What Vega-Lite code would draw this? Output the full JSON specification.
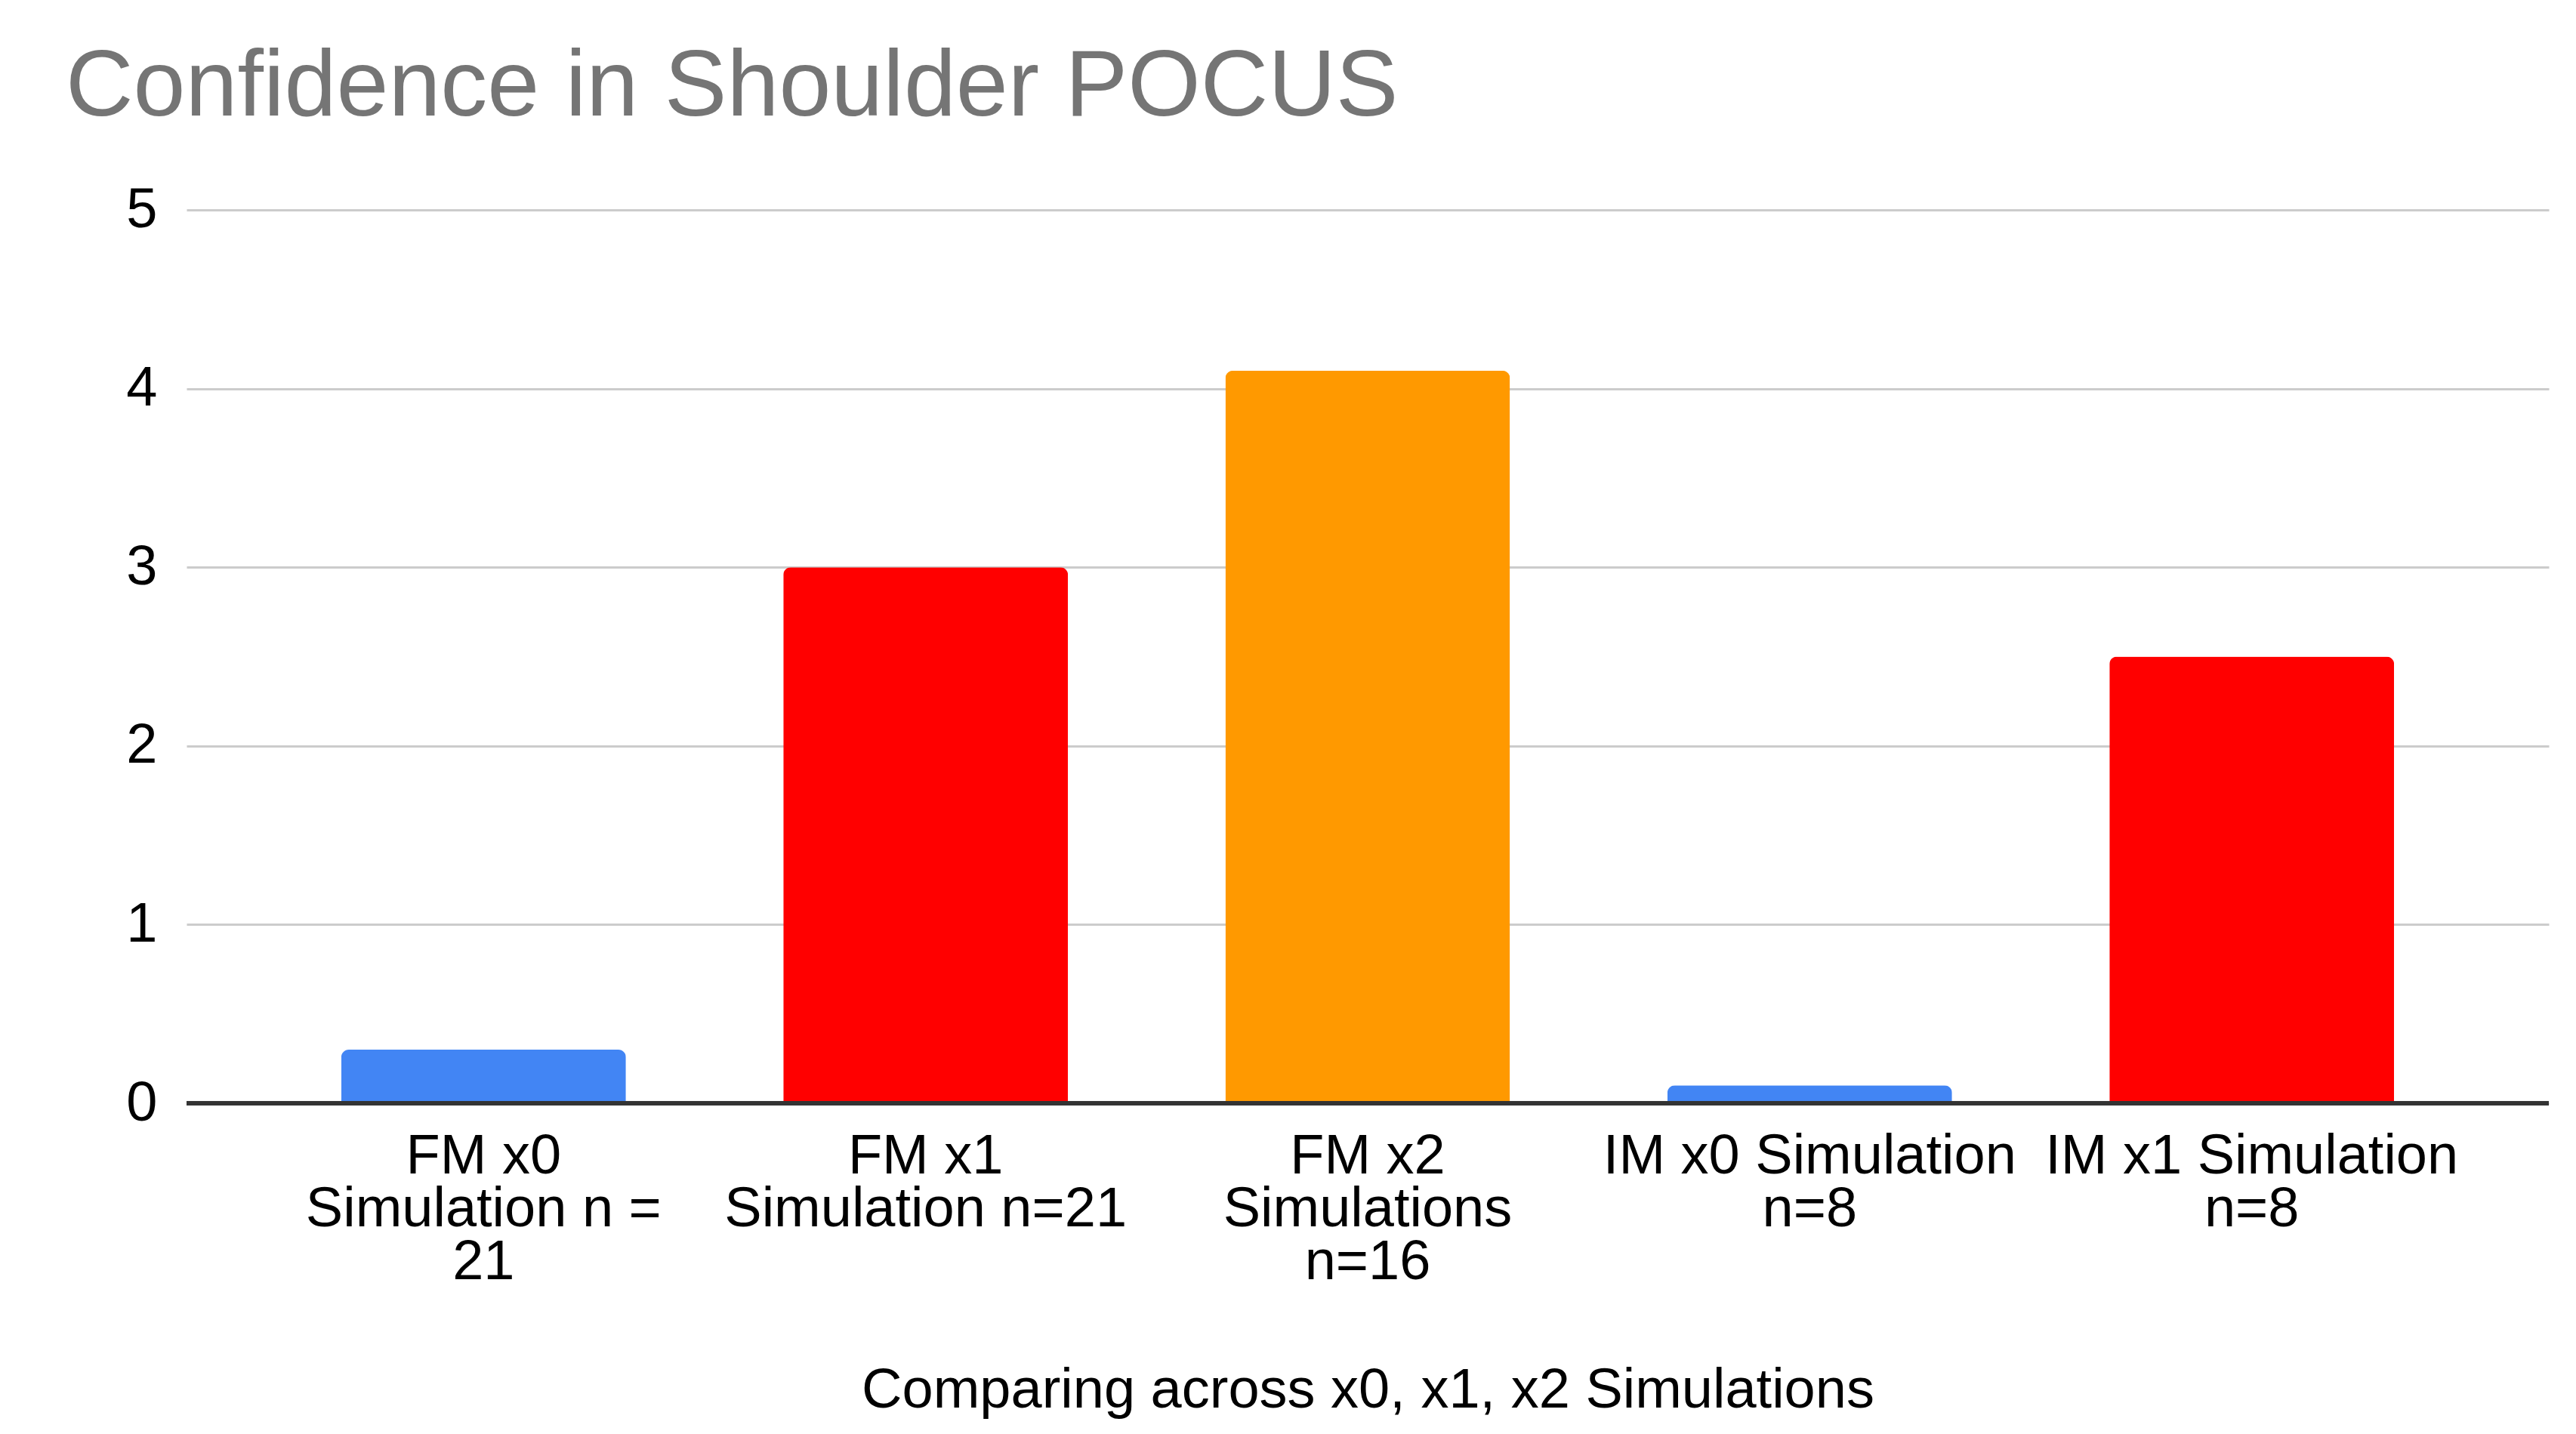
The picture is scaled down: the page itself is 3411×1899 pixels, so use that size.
{
  "$schema": "https://vega.github.io/schema/vega-lite/v6.json",
  "width": 3128,
  "height": 1183,
  "autosize": {"type": "none"},
  "padding": {"left": 247, "top": 278, "right": 36, "bottom": 438},
  "background": "white",
  "view": {"stroke": null},
  "title": {
    "text": "Confidence in Shoulder POCUS",
    "anchor": "start",
    "frame": "group",
    "dx": -160,
    "dy": 120,
    "offset": 84,
    "baseline": "alphabetic",
    "font": "Liberation Sans",
    "fontSize": 124,
    "fontWeight": "normal",
    "color": "#757575"
  },
  "data": {
    "values": [
      {"category": "FM x0|Simulation n =|21", "value": 0.3, "color": "#4285F4"},
      {"category": "FM x1|Simulation n=21", "value": 3.0, "color": "#FF0000"},
      {"category": "FM x2|Simulations|n=16", "value": 4.1, "color": "#FF9900"},
      {"category": "IM x0 Simulation|n=8", "value": 0.1, "color": "#4285F4"},
      {"category": "IM x1 Simulation|n=8", "value": 2.5, "color": "#FF0000"}
    ]
  },
  "layer": [
    {
      "mark": {"type": "bar", "cornerRadiusEnd": 10},
      "encoding": {
        "x": {
          "field": "category",
          "type": "nominal",
          "sort": null,
          "scale": {"paddingInner": 0.356, "paddingOuter": 0.35},
          "axis": {
            "title": "Comparing across x0, x1, x2 Simulations",
            "labelExpr": "split(datum.label, '|')",
            "labelAngle": 0,
            "labelFont": "Liberation Sans",
            "labelFontSize": 74,
            "labelColor": "#000000",
            "labelLineHeight": 70,
            "labelBaseline": "top",
            "labelPadding": 34,
            "labelLimit": 0,
            "ticks": false,
            "tickSize": 0,
            "domain": false,
            "titleFont": "Liberation Sans",
            "titleFontSize": 74,
            "titleFontWeight": "normal",
            "titleColor": "#000000",
            "titlePadding": 144
          }
        },
        "y": {
          "field": "value",
          "type": "quantitative",
          "scale": {"domain": [0, 5], "nice": false},
          "axis": {
            "title": null,
            "values": [0, 1, 2, 3, 4, 5],
            "format": "d",
            "labelFont": "Liberation Sans",
            "labelFontSize": 74,
            "labelColor": "#000000",
            "labelPadding": 39,
            "ticks": false,
            "tickSize": 0,
            "domain": false,
            "grid": true,
            "gridColor": "#CCCCCC",
            "gridWidth": 3
          }
        },
        "color": {"field": "color", "type": "nominal", "scale": null, "legend": null}
      }
    },
    {
      "mark": {"type": "rule", "color": "#333333", "strokeWidth": 5},
      "encoding": {"y": {"datum": 0}}
    }
  ]
}
